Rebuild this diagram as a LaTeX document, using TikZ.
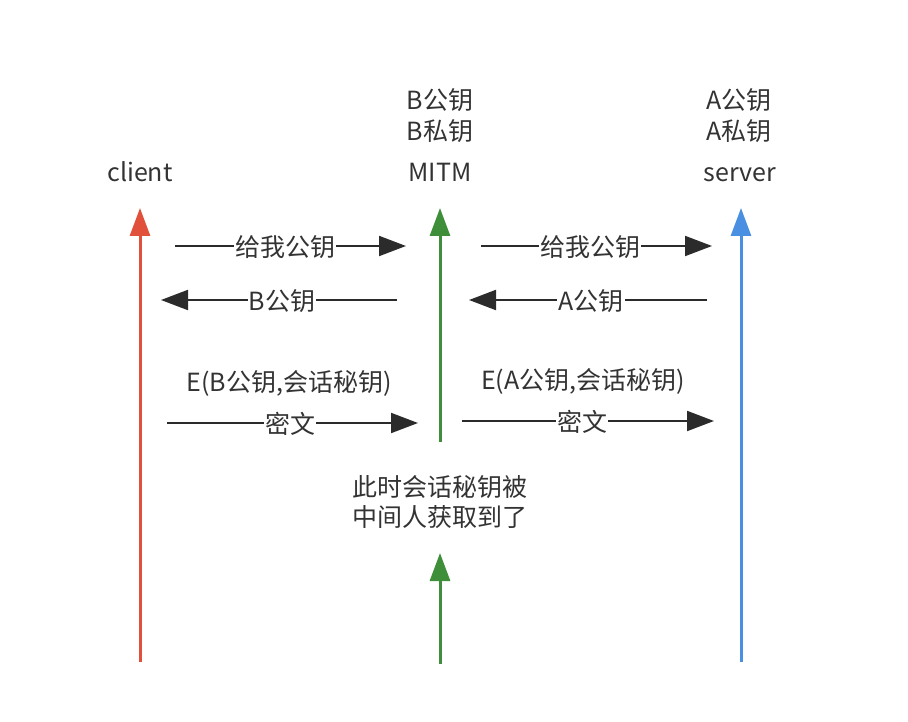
\documentclass[tikz,border=0pt]{standalone}
\usepackage{fontspec}
\setmainfont{Noto Sans CJK SC}
\usetikzlibrary{arrows.meta}
\definecolor{txt}{HTML}{333333}
\definecolor{cred}{HTML}{E0503A}
\definecolor{cgreen}{HTML}{3F8F3A}
\definecolor{cblue}{HTML}{4A90E2}
\definecolor{ablack}{HTML}{2B2B2B}
\tikzset{
  lbl/.style={text=txt, font=\fontsize{25}{30}\selectfont, inner sep=1pt, text height=22pt, text depth=3pt},
  lblw/.style={lbl, fill=white, inner xsep=1pt},
  msg/.style={draw=ablack, line width=2pt, -{Triangle[length=27pt,width=20pt]}},
  life/.style={line width=3pt}
}
\begin{document}
\begin{tikzpicture}[x=1pt,y=-1pt]
\useasboundingbox (0,0) rectangle (908,722);
% lifelines
\coordinate (cB) at (140,662); \coordinate (cT) at (140,208);
\coordinate (mB) at (440,442); \coordinate (mT) at (440,208);
\coordinate (m2B) at (440,664); \coordinate (m2T) at (440,553);
\coordinate (sB) at (741,662); \coordinate (sT) at (741,208);
\draw[life, draw=cred, -{Triangle[length=28pt,width=20pt,fill=cred]}] (cB) -- (cT);
\draw[life, draw=cgreen, -{Triangle[length=28pt,width=20pt,fill=cgreen]}] (mB) -- (mT);
\draw[life, draw=cgreen, -{Triangle[length=28pt,width=20pt,fill=cgreen]}] (m2B) -- (m2T);
\draw[life, draw=cblue, -{Triangle[length=28pt,width=20pt,fill=cblue]}] (sB) -- (sT);
% headers
\node[lbl] (client) at (140,172) {client};
\node[lbl] (mitm) at (440,172) {MITM};
\node[lbl] (server) at (740,172) {server};
\node[lbl] (bpub) at (440,100) {B公钥};
\node[lbl] (bpri) at (440,131) {B私钥};
\node[lbl] (apub) at (739,100) {A公钥};
\node[lbl] (apri) at (739,131) {A私钥};
% messages
\coordinate (r1a) at (175,246); \coordinate (r1b) at (406,246);
\coordinate (r2a) at (481,246); \coordinate (r2b) at (712,246);
\coordinate (l1a) at (397,300); \coordinate (l1b) at (161,300);
\coordinate (l2a) at (707,300); \coordinate (l2b) at (469,300);
\coordinate (c1a) at (167,423); \coordinate (c1b) at (418,423);
\coordinate (c2a) at (462,421); \coordinate (c2b) at (714,421);
\draw[msg] (r1a) -- (r1b);
\draw[msg] (r2a) -- (r2b);
\draw[msg] (l1a) -- (l1b);
\draw[msg] (l2a) -- (l2b);
\draw[msg] (c1a) -- (c1b);
\draw[msg] (c2a) -- (c2b);
\node[lblw] (t1) at (285,247) {给我公钥};
\node[lblw] (t2) at (590,247) {给我公钥};
\node[lblw] (t3) at (282,301) {B公钥};
\node[lblw] (t4) at (591,301) {A公钥};
\node[lblw] (t5) at (290,424) {密文};
\node[lblw] (t6) at (582,422) {密文};
\node[lbl] (e1) at (289,382) {E(B公钥,会话秘钥)};
\node[lbl] (e2) at (583,380) {E(A公钥,会话秘钥)};
\node[lbl, align=center, text height=, text depth=] (note) at (440,502) {此时会话秘钥被\\中间人获取到了};
\end{tikzpicture}
\end{document}
